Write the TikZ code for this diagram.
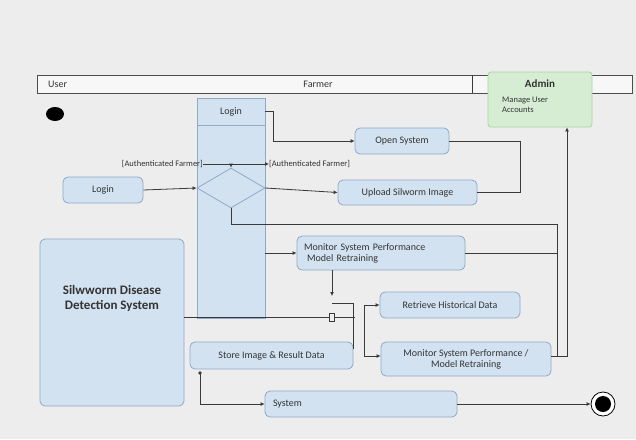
\documentclass[tikz,border=0pt]{standalone}
\usepackage{fontspec}
\setmainfont{Carlito}
\usetikzlibrary{shapes.geometric,arrows.meta,calc}
\definecolor{bg}{HTML}{EDEDED}
\definecolor{bfill}{HTML}{D3E2F1}
\definecolor{bdraw}{HTML}{8FA9C6}
\definecolor{gfill}{HTML}{D6EDD3}
\definecolor{gdraw}{HTML}{A9D2A4}
\definecolor{txt}{HTML}{333333}
\definecolor{lncol}{HTML}{3A3A3A}
\begin{document}
\begin{tikzpicture}[x=1pt,y=-1pt,
  box/.style={draw=bdraw, fill=bfill, rounded corners=5pt, line width=0.8pt, font=\fontsize{10}{11}\selectfont, text=txt, align=center, inner sep=0pt},
  lbl/.style={font=\fontsize{10}{11}\selectfont, text=txt, inner sep=0pt},
  small/.style={font=\fontsize{8.5}{10}\selectfont, text=txt, inner sep=0pt},
  wire/.style={draw=lncol, line width=0.8pt},
  arr/.style={draw=lncol, line width=0.8pt, -{Latex[length=4pt,width=4pt]}}]
\fill[bg] (0,0) rectangle (636,439);
\useasboundingbox (0,0) rectangle (636,439);
% header
\node[draw=black!70, fill=white!55!bg, minimum width=595, minimum height=18, inner sep=0pt, line width=0.9pt] (hdr) at (334.5,84) {};
\draw[wire] (472,75) -- (472,93);
\node[lbl, anchor=west] (user) at (48,84) {User};
\node[lbl] (farmer) at (318,84) {Farmer};
\node[draw=gdraw, fill=gfill, rounded corners=3pt, minimum width=104, minimum height=55, inner sep=0pt, line width=0.8pt] (admin) at (540,99.5) {};
\node[lbl, font=\fontsize{11}{12}\selectfont\bfseries] (adminlbl) at (540,84) {Admin};
\node[small, anchor=north west, align=left] (manage) at (502,97) {Manage User\\Accounts};
% start
\node[ellipse, fill=black, minimum width=18, minimum height=14, inner sep=0pt] (start) at (55,114) {};
% login column
\node[draw=bdraw, fill=bfill, minimum width=68, minimum height=220, inner sep=0pt, line width=0.8pt] (lcol) at (231,208) {};
\node[draw=bdraw, fill=bfill, minimum width=68, minimum height=27, inner sep=0pt, line width=0.8pt, lbl] (lhd) at (231,111.5) {Login};
\node[diamond, draw=bdraw, fill=bfill, minimum width=68, minimum height=40, inner sep=0pt, line width=0.8pt] (dia) at (231,188) {};
% nodes
\node[box, minimum width=80, minimum height=26] (loginl) at (103,190) {Login};
\node[box, minimum width=94, minimum height=26] (open) at (402,141) {Open System};
\node[box, minimum width=139, minimum height=25] (upload) at (407.5,192.5) {Upload Silworm Image};
\node[box, minimum width=168, minimum height=34, text width=154, align=left] (mon1) at (381,253) {Monitor System Performance\\\hspace*{3pt}Model Retraining};
\node[box, minimum width=140, minimum height=26] (retrieve) at (450,305) {Retrieve Historical Data};
\node[box, minimum width=170, minimum height=34] (mon2) at (466,359) {Monitor System Performance /\\Model Retraining};
\node[box, minimum width=163, minimum height=27] (store) at (271.5,355.5) {Store Image \& Result Data};
\node[box, minimum width=144, minimum height=167] (sds) at (112,322.5) {};
\node[lbl, font=\fontsize{13}{15}\selectfont\bfseries, align=center] (sdstxt) at (112,298) {Silwworm Disease\\Detection System};
\node[box, minimum width=192, minimum height=26, text width=176, align=left] (system) at (361,404) {System};
% end
\node[circle, draw=black, line width=0.8pt, fill=white, minimum size=24, inner sep=0pt] (endo) at (603,404) {};
\node[circle, fill=black, minimum size=16, inner sep=0pt] (endi) at (603,404) {};
% guard labels
\node[small, anchor=east] (authl) at (203,164) {[Authenticated Farmer]};
\node[small, anchor=west] (authr) at (269,164) {[Authenticated Farmer]};
% coordinates
\coordinate (c1) at (520,192.5);
\coordinate (c2) at (557,224);
\coordinate (c3) at (567,356);
\coordinate (j1) at (332,296);
\coordinate (j2) at (355,317);
\coordinate (c4) at (364,305);
\coordinate (c5) at (364,356);
\coordinate (c6) at (200,373);
% connectors
\draw[arr] (lhd.east) -- ++(8,0) |- (open.west);
\draw[wire] (open.east) -| (c1) -- (upload.east);
\draw[arr] (authl.east) -- (authr.west);
\draw[arr] (dia.north |- authl.east) -- (dia.north);
\draw[arr] (loginl.east) -- (dia.west);
\draw[arr] (dia.east) -- (upload.west);
\draw[wire] (dia.south) |- (c2) -- (c2 |- c3) -- (mon2.east |- c3);
\draw[wire] (mon1.east) -- (c2 |- mon1.east);
\draw[arr] (mon2.east |- c3) -- (c3) -- (admin.south -| c3);
\draw[arr] (lcol.east |- mon1.west) -- (mon1.west);
\draw[arr] (mon1.south -| j1) -- (j1);
\draw[wire] (sds.east |- j2) -- (j2);
\node[draw=lncol, fill=bg, line width=0.7pt, minimum width=5, minimum height=8, inner sep=0pt] (jm) at (332,317) {};
\draw[wire] ($(j1)+(0,7)$) -| (353,349);
\draw[wire] (c4) -- (c5);
\draw[arr] (c4) -- (retrieve.west);
\draw[arr] (c5) -- (mon2.west |- c5);
\fill[lncol] (c6) circle (1.8);
\draw[arr] (c6) |- (system.west);
\draw[arr] (system.east) -- (endo.west);
\end{tikzpicture}
\end{document}
